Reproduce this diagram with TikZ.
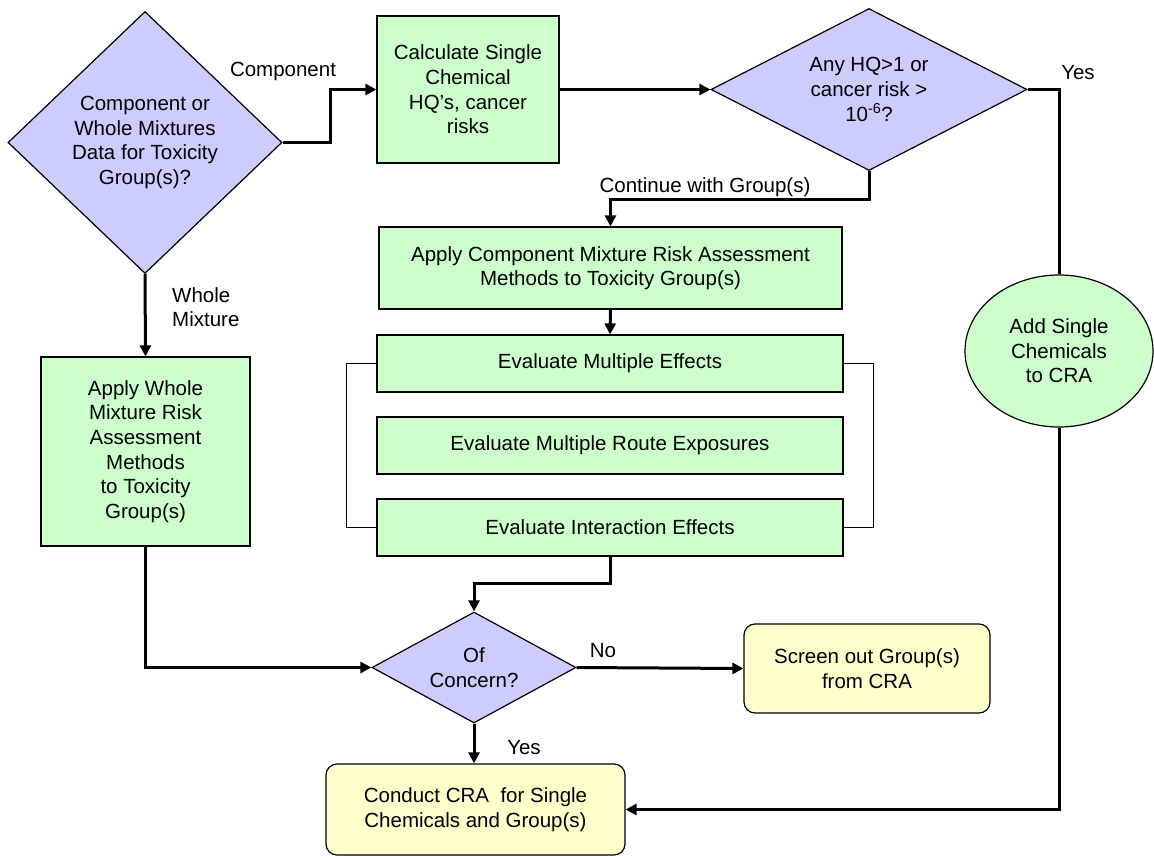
\documentclass[tikz,border=0pt]{standalone}
\usepackage{fontspec}
\setmainfont{Liberation Sans}
\usetikzlibrary{shapes.geometric,arrows.meta}
\definecolor{procgreen}{HTML}{CCFFCC}
\definecolor{decpurple}{HTML}{CCCCFF}
\definecolor{endyellow}{HTML}{FFFFCC}
\begin{document}
\begin{tikzpicture}[x=1pt,y=-1pt,
  every node/.style={font=\fontsize{20.5}{24.6}\selectfont},
  proc/.style={draw=black,line width=1.2pt,fill=procgreen,inner sep=0pt,align=center},
  decision/.style={draw=black,line width=1.2pt,fill=decpurple,diamond,inner sep=0pt,align=center},
  terminal/.style={draw=black,line width=1.2pt,fill=endyellow,rounded corners=11pt,inner sep=0pt,align=center},
  oval/.style={draw=black,line width=1.2pt,fill=procgreen,ellipse,inner sep=0pt,align=center},
  tag/.style={inner sep=0pt},
  conn/.style={line width=3pt},
  arr/.style={line width=3pt,-{Triangle[length=11pt,width=11pt]}},
  bracket/.style={line width=1.5pt}]
\useasboundingbox (0,0) rectangle (1154,856);

% decisions
\node[decision,aspect=1,minimum width=274pt,minimum height=262pt] (d1) at (145,142.5)
  {Component or\\Whole Mixtures\\Data for Toxicity\\Group(s)?};
\node[decision,aspect=2,minimum width=316pt,minimum height=162pt] (d2) at (869,89.5)
  {Any HQ>1 or\\cancer risk >\\10\textsuperscript{-6}?};
\node[decision,aspect=2,minimum width=204pt,minimum height=111pt] (d3) at (474,667.5)
  {Of\\Concern?};

% processes
\node[proc,minimum width=182pt,minimum height=147pt] (calc) at (468,89.5)
  {Calculate Single\\Chemical\\HQ’s, cancer\\risks};
\node[proc,minimum width=463pt,minimum height=82pt] (compc) at (610.5,268)
  {Apply Component Mixture Risk Assessment\\Methods to Toxicity Group(s)};
\node[proc,minimum width=466pt,minimum height=57pt] (me) at (610,363.5)
  {Evaluate Multiple Effects};
\node[proc,minimum width=466pt,minimum height=57pt] (route) at (610,445.5)
  {Evaluate Multiple Route Exposures};
\node[proc,minimum width=466pt,minimum height=57pt] (ie) at (610,527.5)
  {Evaluate Interaction Effects};
\node[proc,minimum width=209pt,minimum height=189pt] (whole) at (145.5,451.5)
  {Apply Whole\\Mixture Risk\\Assessment\\Methods\\ to Toxicity\\Group(s)};
\node[oval,minimum width=188pt,minimum height=152pt] (add) at (1059,351)
  {Add Single\\Chemicals\\to CRA};

% end points
\node[terminal,minimum width=246pt,minimum height=89pt] (screen) at (867,668.5)
  {Screen out Group(s)\\from CRA};
\node[terminal,minimum width=299pt,minimum height=91pt] (conduct) at (475.5,809.5)
  {Conduct CRA~ for Single\\Chemicals and Group(s)};

% branch labels
\node[tag] (lcomp) at (283,71) {Component};
\node[tag,anchor=west,align=left] (lwhole) at (172,307) {Whole\\Mixture};
\node[tag] (lcont) at (705,187) {Continue with Group(s)};
\node[tag] (lyes1) at (1078,73) {Yes};
\node[tag] (lno) at (603,651) {No};
\node[tag] (lyes2) at (524,748) {Yes};

% connectors
\draw[arr] (d1.east) -- ++(48,0) |- (calc.west);
\draw[arr] (calc.east) -- (d2.west);
\draw[arr] (d1.south) -- (whole.north);
\draw[conn] (d2.east) -| (add.north);
\draw[arr] (add.south) |- (conduct.east);
\draw[arr] (d2.south) -- (d2.south |- 0,199) -| (compc.north);
\draw[arr] (compc.south) -- (me.north);
\draw[arr] (ie.south) -- (ie.south |- 0,583) -| (d3.north);
\draw[arr] (whole.south) |- (d3.west);
\draw[arr] (d3.east) -- (screen.west);
\draw[arr] (d3.south) -- (d3.south |- conduct.north);

% brackets joining the evaluation steps
\draw[bracket] (me.west) -- ++(-30,0) |- (ie.west);
\draw[bracket] (me.east) -- ++(30,0) |- (ie.east);
\end{tikzpicture}
\end{document}
